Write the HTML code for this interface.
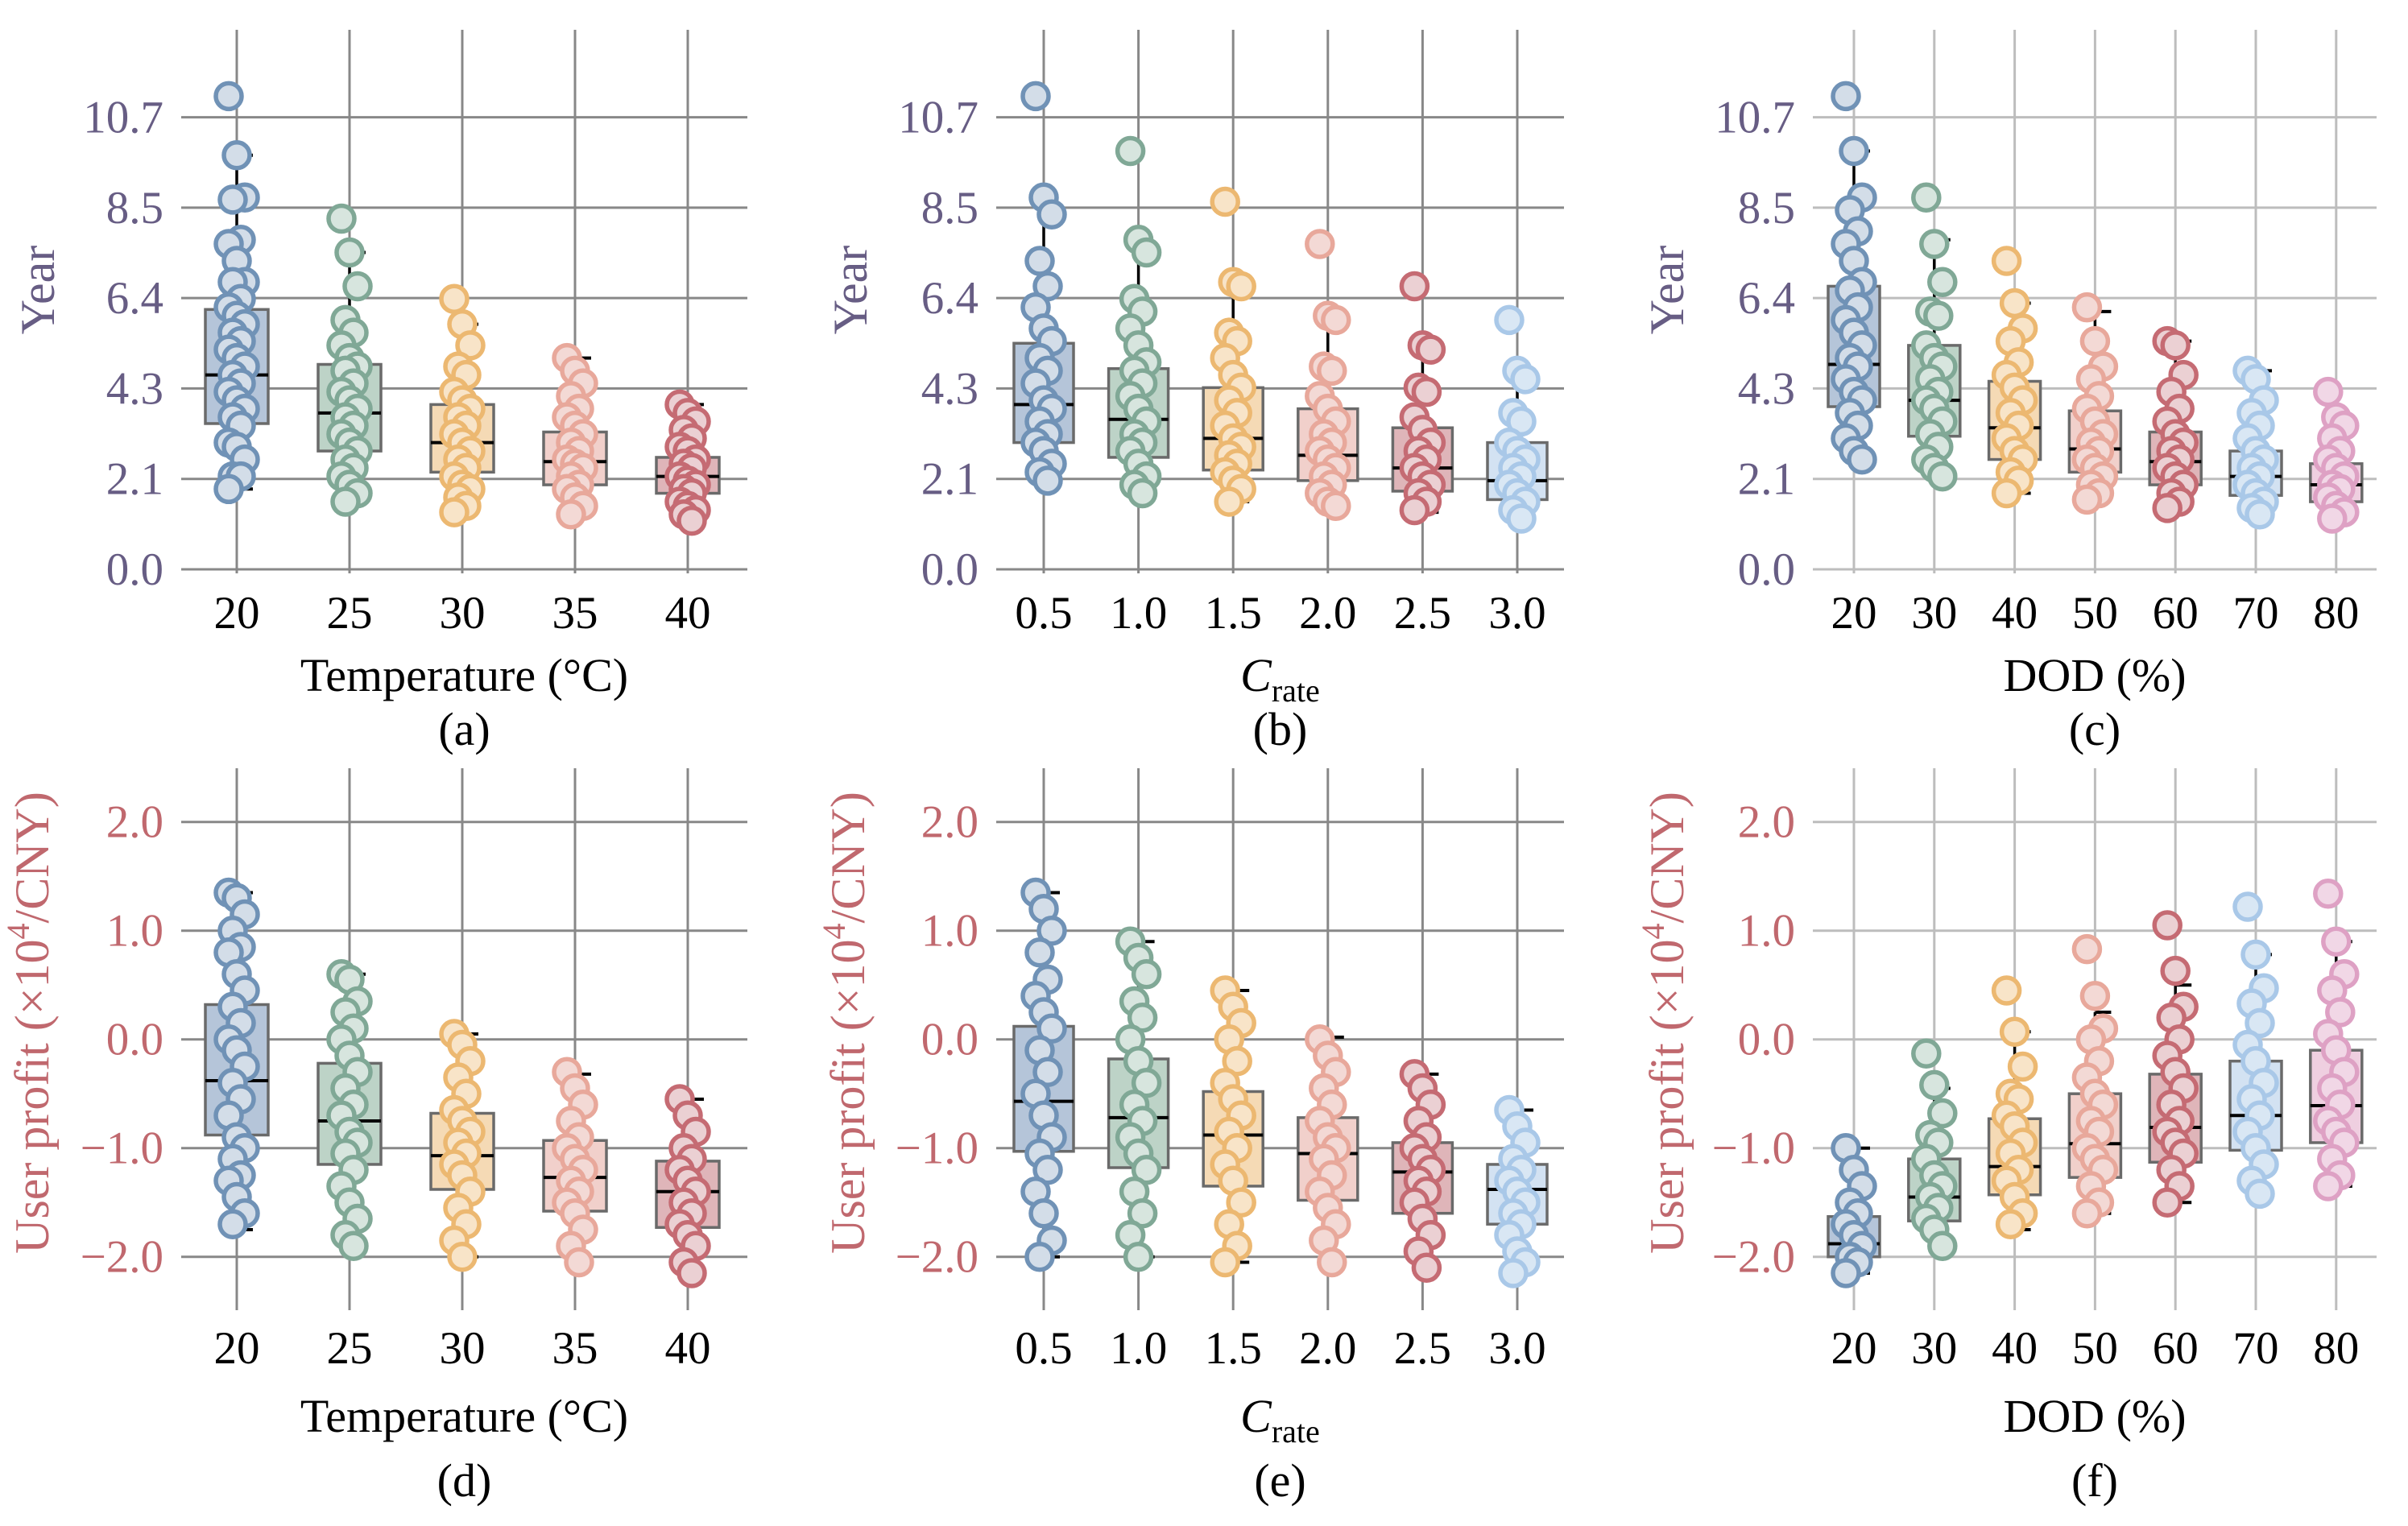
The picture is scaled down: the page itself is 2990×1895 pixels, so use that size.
<!DOCTYPE html>
<html><head><meta charset="utf-8"><style>
html,body{margin:0;padding:0;background:#fff;}
svg, svg text{font-family:"Liberation Serif","Times New Roman",serif;}
</style></head><body>
<svg id="fig" width="2990" height="1890" viewBox="0 0 2990 1890" xmlns="http://www.w3.org/2000/svg" font-family="Liberation Serif, serif"></svg>
<script>
// ---------- DATA ----------
const tempCats = ["20","25","30","35","40"];
const crateCats = ["0.5","1.0","1.5","2.0","2.5","3.0"];
const dodCats = ["20","30","40","50","60","70","80"];
const yearTicks = [0.0,2.14,4.28,6.42,8.56,10.7];
const yearTickLabels = ["0.0","2.1","4.3","6.4","8.5","10.7"];
const profitTicks = [-2,-1,0,1,2];
const profitTickLabels = ["\u22122.0","\u22121.0","0.0","1.0","2.0"];

// Panel a: Year vs temperature
const aPoints = [
 [11.2,9.8,8.8,8.75,7.8,7.7,7.3,6.8,6.8,6.4,6.2,6.0,5.8,5.6,5.4,5.2,5.0,4.8,4.6,4.4,4.2,4.0,3.8,3.6,3.4,3.0,2.9,2.6,2.2,2.2,1.9],
 [8.3,7.5,6.7,5.9,5.6,5.3,5.0,4.8,4.7,4.4,4.2,4.0,3.8,3.6,3.4,3.2,3.0,2.8,2.6,2.4,2.2,2.0,1.8,1.6],
 [6.4,5.8,5.3,4.8,4.6,4.2,4.0,3.8,3.6,3.4,3.2,3.0,2.8,2.6,2.4,2.2,2.0,1.9,1.7,1.5,1.35],
 [5.0,4.7,4.4,4.1,3.8,3.6,3.4,3.2,3.0,2.8,2.6,2.5,2.4,2.2,2.0,1.9,1.7,1.5,1.3],
 [3.9,3.7,3.5,3.3,3.1,2.9,2.8,2.6,2.5,2.4,2.2,2.1,2.0,1.9,1.8,1.6,1.5,1.4,1.3,1.15]];
const aQ1 = [3.45,2.8,2.3,2.0,1.8];
const aMed = [4.6,3.7,3.0,2.55,2.2];
const aQ3 = [6.15,4.85,3.9,3.25,2.65];
const aLo = [1.9,1.6,1.35,1.3,1.15];
const aHi = [9.8,7.5,5.8,5.0,3.9];

// Panel b: Year vs C-rate
const bPoints = [
 [11.2,8.8,8.4,7.3,6.7,6.2,5.7,5.4,5.0,4.7,4.4,4.0,3.8,3.5,3.2,3.0,2.8,2.5,2.3,2.1],
 [9.9,7.8,7.5,6.4,6.1,5.7,5.3,4.9,4.7,4.4,4.1,3.8,3.5,3.2,3.0,2.8,2.5,2.2,2.0,1.8],
 [8.7,6.8,6.7,5.6,5.4,5.0,4.6,4.3,4.0,3.7,3.4,3.1,2.9,2.7,2.5,2.3,2.1,1.9,1.6],
 [7.7,6.0,5.9,4.8,4.7,4.1,3.8,3.5,3.2,3.0,2.8,2.6,2.4,2.2,2.0,1.8,1.6,1.5],
 [6.7,5.3,5.2,4.3,4.2,3.6,3.3,3.0,2.8,2.6,2.4,2.2,2.0,1.8,1.6,1.4],
 [5.9,4.7,4.5,3.7,3.5,3.0,2.8,2.6,2.4,2.2,2.0,1.8,1.6,1.4,1.2]];
const bQ1 = [3.0,2.65,2.35,2.1,1.85,1.65];
const bMed = [3.9,3.55,3.1,2.7,2.4,2.1];
const bQ3 = [5.35,4.75,4.3,3.8,3.35,3.0];
const bLo = [2.1,1.8,1.6,1.5,1.35,1.2];
const bHi = [8.5,7.6,6.6,6.0,5.3,4.7];

// Panel c: Year vs DOD
const cPoints = [
 [11.2,9.9,8.8,8.5,8.0,7.7,7.3,6.8,6.6,6.2,5.9,5.6,5.3,5.0,4.8,4.5,4.2,4.0,3.7,3.4,3.1,2.8,2.6],
 [8.8,7.7,6.8,6.1,6.0,5.3,5.0,4.8,4.5,4.2,4.0,3.8,3.5,3.2,2.9,2.6,2.4,2.2],
 [7.3,6.3,5.7,5.4,4.9,4.6,4.3,4.0,3.7,3.4,3.1,2.8,2.6,2.3,2.1,1.8],
 [6.2,5.4,4.8,4.5,4.1,3.8,3.5,3.2,3.0,2.8,2.6,2.4,2.2,2.0,1.8,1.65],
 [5.4,5.3,4.6,4.2,3.8,3.5,3.2,3.0,2.8,2.6,2.4,2.2,2.0,1.8,1.6,1.45],
 [4.7,4.5,4.0,3.7,3.4,3.1,2.8,2.6,2.4,2.2,2.0,1.8,1.6,1.45,1.3],
 [4.2,3.6,3.4,3.1,2.8,2.6,2.4,2.2,2.0,1.9,1.7,1.5,1.35,1.2]];
const cQ1 = [3.85,3.15,2.6,2.3,2.0,1.75,1.6];
const cMed = [4.85,4.0,3.35,2.85,2.55,2.2,2.0];
const cQ3 = [6.7,5.3,4.45,3.75,3.25,2.8,2.5];
const cLo = [2.6,2.2,1.8,1.65,1.45,1.3,1.2];
const cHi = [9.9,7.8,6.3,6.1,5.4,4.7,3.6];

// Panel d: profit vs temperature
const dPoints = [
 [1.35,1.3,1.15,1.0,0.85,0.8,0.6,0.45,0.3,0.15,0.0,-0.1,-0.25,-0.4,-0.55,-0.7,-0.9,-1.0,-1.1,-1.25,-1.3,-1.45,-1.6,-1.7],
 [0.6,0.55,0.35,0.25,0.1,0.0,-0.15,-0.3,-0.45,-0.6,-0.7,-0.85,-0.95,-1.05,-1.2,-1.35,-1.5,-1.65,-1.8,-1.9],
 [0.05,-0.05,-0.2,-0.35,-0.5,-0.65,-0.75,-0.85,-0.95,-1.05,-1.15,-1.25,-1.4,-1.55,-1.7,-1.85,-2.0],
 [-0.3,-0.45,-0.6,-0.75,-0.9,-1.0,-1.1,-1.2,-1.3,-1.4,-1.5,-1.6,-1.75,-1.9,-2.05],
 [-0.55,-0.7,-0.85,-1.0,-1.1,-1.2,-1.3,-1.4,-1.5,-1.6,-1.7,-1.8,-1.9,-2.05,-2.15]];
const dQ1 = [-0.88,-1.15,-1.38,-1.58,-1.73];
const dMed = [-0.38,-0.75,-1.07,-1.27,-1.4];
const dQ3 = [0.32,-0.22,-0.68,-0.93,-1.12];
const dLo = [-1.75,-1.9,-2.0,-2.1,-2.15];
const dHi = [1.35,0.6,0.05,-0.32,-0.55];

// Panel e: profit vs C-rate
const ePoints = [
 [1.35,1.2,1.0,0.8,0.55,0.4,0.25,0.1,-0.1,-0.3,-0.5,-0.7,-0.9,-1.05,-1.2,-1.4,-1.6,-1.85,-2.0],
 [0.9,0.75,0.6,0.35,0.2,0.0,-0.2,-0.4,-0.6,-0.75,-0.9,-1.05,-1.2,-1.4,-1.6,-1.8,-2.0],
 [0.45,0.3,0.15,0.0,-0.2,-0.4,-0.55,-0.7,-0.85,-1.0,-1.15,-1.3,-1.5,-1.7,-1.9,-2.05],
 [0.0,-0.15,-0.3,-0.45,-0.6,-0.75,-0.9,-1.0,-1.1,-1.25,-1.4,-1.55,-1.7,-1.85,-2.05],
 [-0.32,-0.45,-0.6,-0.75,-0.9,-1.0,-1.1,-1.2,-1.3,-1.4,-1.5,-1.65,-1.8,-1.95,-2.1],
 [-0.65,-0.8,-0.95,-1.1,-1.2,-1.3,-1.4,-1.5,-1.6,-1.7,-1.8,-1.95,-2.05,-2.15]];
const eQ1 = [-1.03,-1.18,-1.35,-1.48,-1.6,-1.7];
const eMed = [-0.57,-0.72,-0.88,-1.05,-1.22,-1.38];
const eQ3 = [0.12,-0.18,-0.48,-0.72,-0.95,-1.15];
const eLo = [-2.0,-2.0,-2.05,-2.1,-2.12,-2.15];
const eHi = [1.35,0.9,0.45,0.02,-0.32,-0.65];

// Panel f: profit vs DOD
const fPoints = [
 [-1.0,-1.2,-1.35,-1.5,-1.6,-1.7,-1.8,-1.9,-2.0,-2.05,-2.15],
 [-0.13,-0.42,-0.68,-0.88,-0.95,-1.1,-1.25,-1.35,-1.45,-1.55,-1.65,-1.75,-1.9],
 [0.45,0.07,-0.25,-0.5,-0.55,-0.7,-0.8,-0.95,-1.05,-1.2,-1.3,-1.45,-1.6,-1.7],
 [0.83,0.4,0.1,0.0,-0.2,-0.35,-0.5,-0.6,-0.75,-0.85,-1.0,-1.1,-1.2,-1.35,-1.5,-1.6],
 [1.05,0.63,0.3,0.2,0.0,-0.15,-0.3,-0.45,-0.6,-0.75,-0.85,-0.95,-1.05,-1.2,-1.35,-1.5],
 [1.22,0.78,0.47,0.33,0.15,-0.05,-0.2,-0.4,-0.55,-0.7,-0.85,-1.0,-1.15,-1.3,-1.42],
 [1.34,0.9,0.6,0.45,0.25,0.05,-0.1,-0.3,-0.45,-0.6,-0.75,-0.85,-0.95,-1.1,-1.25,-1.35]];
const fQ1 = [-2.0,-1.67,-1.43,-1.27,-1.13,-1.02,-0.95];
const fMed = [-1.88,-1.45,-1.17,-0.96,-0.81,-0.7,-0.61];
const fQ3 = [-1.63,-1.1,-0.73,-0.5,-0.32,-0.2,-0.1];
const fLo = [-2.15,-1.9,-1.75,-1.6,-1.5,-1.42,-1.35];
const fHi = [-1.0,-0.45,0.07,0.25,0.5,0.78,0.9];

// ---------- STYLE ----------
const strokeCols = ["#7092b6","#80a896","#ecb871","#e8a89b","#c56b73","#a9c8e8","#dea1c4"];
const fillCols = ["#d3dde8","#d7e5de","#f8e4c8","#f3d9d5","#ebd0d3","#d9e7f4","#f1d7e6"];
const boxCols = ["#b5c5d9","#bdd3c7","#f5dab5","#f1d0cb","#dfb5b9","#d3e2f2","#efcfe0"];
const FONT = "Liberation Serif, Times New Roman, serif";

const NS = "http://www.w3.org/2000/svg";
const svg = document.getElementById("fig");
function mk(tag, attrs, parent){
  const e = document.createElementNS(NS, tag);
  for (const k in attrs) e.setAttribute(k, attrs[k]);
  if (tag === "text") e.setAttribute("font-family", FONT);
  (parent||svg).appendChild(e);
  return e;
}

function panel(o){
  const g = mk("g", {});
  
  
  const n = o.cats.length;
  const xs = i => o.x0 + i*o.dx;
  const ys = v => o.yZero - v*o.ppu;
  for (let i=0;i<n;i++){
    const l = mk("line",{x1:xs(i),x2:xs(i),y1:o.top,y2:o.bot,stroke:o.grid,"stroke-width":3},g);
    
    
  }
  o.ticks.forEach((t,i)=>{
    const y = ys(t);
    if (y < o.bot-3){
      const l = mk("line",{x1:o.gl,x2:o.gr,y1:y,y2:y,stroke:o.grid,"stroke-width":3},g);
      
      
    }
    const tx = mk("text",{x:o.gl-22,y:y+19,"text-anchor":"end","font-size":57,fill:o.ycol},g);
    tx.textContent = o.tickLabels[i];
    
    
  });
  o.cats.forEach((c,i)=>{
    const tx = mk("text",{x:xs(i),y:o.xlabY,"text-anchor":"middle","font-size":57,fill:"#000"},g);
    tx.textContent = c;
    
    
  });
  for (let i=0;i<n;i++){
    const cx = xs(i), hw = o.bw/2;
    const b = mk("rect",{x:cx-hw,y:ys(o.q3[i]),width:o.bw,height:ys(o.q1[i])-ys(o.q3[i]),fill:boxCols[i],stroke:"#6a6a6a","stroke-width":3.5},g);
    
    
    const w1 = mk("line",{x1:cx,x2:cx,y1:ys(o.q3[i]),y2:ys(o.hi[i]),stroke:"#000","stroke-width":3.5},g);
    
    
    const w2 = mk("line",{x1:cx,x2:cx,y1:ys(o.q1[i]),y2:ys(o.lo[i]),stroke:"#000","stroke-width":3.5},g);
    
    
    const c1 = mk("line",{x1:cx,x2:cx+20,y1:ys(o.hi[i]),y2:ys(o.hi[i]),stroke:"#000","stroke-width":4},g);
    
    
    const c2 = mk("line",{x1:cx,x2:cx+20,y1:ys(o.lo[i]),y2:ys(o.lo[i]),stroke:"#000","stroke-width":4},g);
    
    
  }
  for (let i=0;i<n;i++){
    const cx = xs(i), hw = o.bw/2;
    const m = mk("line",{x1:cx-hw,x2:cx+hw,y1:ys(o.med[i]),y2:ys(o.med[i]),stroke:"#000","stroke-width":4},g);
    
    
  }
  for (let i=0;i<n;i++){
    o.pts[i].forEach((v,j)=>{
      const jit = ((j*7)%5 - 2)*5;
      const p = mk("circle",{cx:xs(i)+jit,cy:ys(v),r:16,fill:fillCols[i],stroke:strokeCols[i],"stroke-width":5.5},g);
      
      
    });
  }
  const yt = mk("text",{x:o.ytx,y:o.yty,"text-anchor":"middle","font-size":60,fill:o.ycol,transform:`rotate(-90 ${o.ytx} ${o.yty})`},g);
  
  
  if (o.profit){
    yt.appendChild(document.createTextNode("User profit (\u00d710"));
    const s = mk("tspan",{"font-size":40,dy:-24},yt); s.textContent = "4";
    const r = mk("tspan",{dy:24},yt); r.textContent = "/CNY)";
  } else yt.textContent = "Year";
  const cxm = (o.gl+o.gr)/2;
  const xt = mk("text",{x:cxm,y:o.xtY,"text-anchor":"middle","font-size":58,fill:"#000"},g);
  
  
  if (o.crate){
    const c = mk("tspan",{"font-style":"italic"},xt); c.textContent = "C";
    const s = mk("tspan",{"font-size":40,dy:13},xt); s.textContent = "rate";
  } else xt.textContent = o.xtitle;
  const pl = mk("text",{x:cxm,y:o.plY,"text-anchor":"middle","font-size":58,fill:"#000"},g);
  pl.textContent = o.letter;
  
  
}

const topRow = {yZero:707, ppu:52.47, top:37, bot:712, ticks:yearTicks, tickLabels:yearTickLabels, ycol:"#675d84", xlabY:780, yty:360, xtY:858, plY:925};
const botRow = {yZero:1290.7, ppu:135, top:954, bot:1627, ticks:profitTicks, tickLabels:profitTickLabels, ycol:"#c0686e", xlabY:1693, yty:1270, xtY:1778, plY:1858, profit:true};
const colA = {x0:294, dx:140, gl:225, gr:928, bw:78, grid:"#888", cats:tempCats, xtitle:"Temperature (\u00b0C)"};
const colB = {x0:1296, dx:117.6, gl:1237, gr:1942, bw:74, grid:"#888", cats:crateCats, crate:true};
const colC = {x0:2302, dx:99.8, gl:2251, gr:2951, bw:64, grid:"#bdbdbd", cats:dodCats, xtitle:"DOD (%)"};

panel(Object.assign({}, topRow, colA, {name:"panel-a", letter:"(a)", ytx:67, pts:aPoints,q1:aQ1,med:aMed,q3:aQ3,lo:aLo,hi:aHi}));
panel(Object.assign({}, topRow, colB, {name:"panel-b", letter:"(b)", ytx:1076, pts:bPoints,q1:bQ1,med:bMed,q3:bQ3,lo:bLo,hi:bHi}));
panel(Object.assign({}, topRow, colC, {name:"panel-c", letter:"(c)", ytx:2090, pts:cPoints,q1:cQ1,med:cMed,q3:cQ3,lo:cLo,hi:cHi}));
panel(Object.assign({}, botRow, colA, {name:"panel-d", letter:"(d)", ytx:60, pts:dPoints,q1:dQ1,med:dMed,q3:dQ3,lo:dLo,hi:dHi}));
panel(Object.assign({}, botRow, colB, {name:"panel-e", letter:"(e)", ytx:1073, pts:ePoints,q1:eQ1,med:eMed,q3:eQ3,lo:eLo,hi:eHi}));
panel(Object.assign({}, botRow, colC, {name:"panel-f", letter:"(f)", ytx:2090, pts:fPoints,q1:fQ1,med:fMed,q3:fQ3,lo:fLo,hi:fHi}));
</script>
</body></html>
